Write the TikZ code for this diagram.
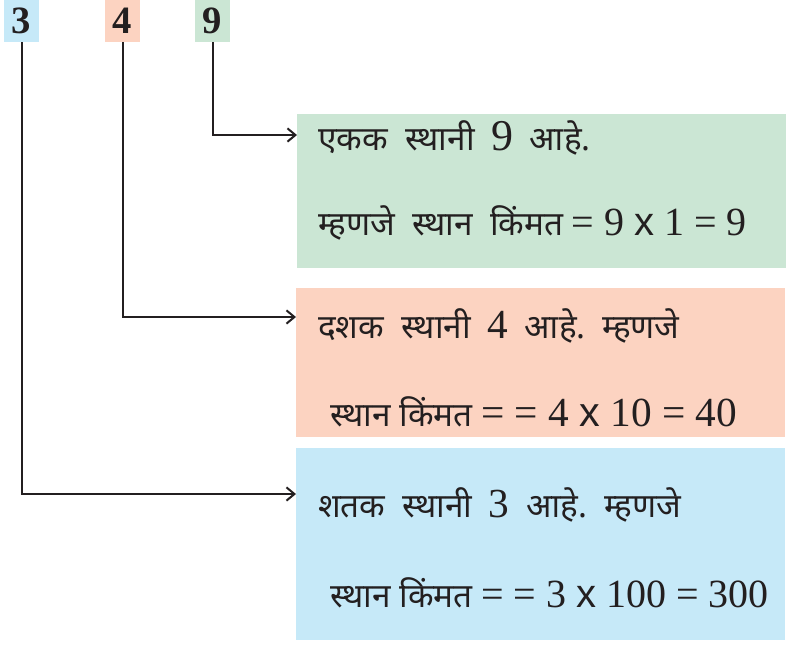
\documentclass[tikz,border=0pt]{standalone}
\usepackage{fontspec}
\setmainfont{Liberation Serif}
\newfontfamily\devafont[Script=Devanagari]{Noto Sans}
\newfontfamily\arialfont{Liberation Sans}
\usetikzlibrary{arrows.meta,positioning}
\definecolor{vert}{RGB}{203,230,212}
\definecolor{rose}{RGB}{252,211,193}
\definecolor{ciel}{RGB}{198,233,248}
\definecolor{encre}{RGB}{35,31,32}
\newcommand{\dv}[1]{{\devafont #1}}
\newcommand{\fois}{{\arialfont x}}
\newcommand{\gros}{\fontsize{31}{32}\selectfont}

\begin{document}
\begin{tikzpicture}[x=0.75pt,y=-0.75pt,
    chiffre/.style={inner sep=0pt,minimum width=26.25pt,minimum height=31.5pt,
      font=\fontsize{29}{30}\selectfont\bfseries,text=encre},
    panneau/.style={anchor=north west,inner sep=0pt,minimum width=366.75pt},
    ligne/.style={anchor=base west,inner sep=0pt,text=encre,font=\fontsize{25}{30}\selectfont},
    fleche/.style={encre,line width=1.5pt,-{Straight Barb[length=6pt,width=10pt]}}]
  \useasboundingbox (0,0) rectangle (786,644);
  %% chiffres du nombre
  \node[chiffre,fill=ciel] (d3) at (21.5,21) {3};
  \node[chiffre,fill=rose] (d4) at (122.5,21) {4};
  \node[chiffre,fill=vert] (d9) at (212.5,21) {9};

  %% cases de couleur
  \node[panneau,fill=vert,minimum height=115.5pt] (ekak) at (297,114) {};
  \node[panneau,fill=rose,minimum height=111.75pt] (dashak) at (296,288) {};
  \node[panneau,fill=ciel,minimum height=144pt] (shatak) at (296,448) {};

  %% unites
  \node[ligne] (ekak1) at (318,150) {\dv{एकक\ \ स्थानी}\ \ {\fontsize{33}{34}\selectfont 9}\ \ \dv{आहे.}};
  \node[ligne] (ekak2) at (318,235) {\dv{म्हणजे\ \ स्थान\ \ किंमत}\ {\fontsize{30}{30}\selectfont = 9 \fois{} 1 = 9}};
  %% dizaines
  \node[ligne] (dashak1) at (318,338) {\dv{दशक\ \ स्थानी}\ \ {\gros 4}\ \ \dv{आहे.\ \ म्हणजे}};
  \node[ligne] (dashak2) at (330,426) {\dv{स्थान\ किंमत} {\gros = = 4 \fois{} 10 = 40}};
  %% centaines
  \node[ligne] (shatak1) at (318,517) {\dv{शतक\ \ स्थानी}\ \ {\gros 3}\ \ \dv{आहे.\ \ म्हणजे}};
  \node[ligne] (shatak2) at (330,607) {\dv{स्थान\ किंमत} {\fontsize{30}{32}\selectfont = = 3 \fois{} 100 = 300}};

  %% fleches
  \draw[fleche] (d9.south) |- ([yshift=-15.75pt]ekak.north west);
  \draw[fleche] (d4.south) |- ([yshift=-21.75pt]dashak.north west);
  \draw[fleche] (d3.south) |- ([yshift=-34.5pt]shatak.north west);
\end{tikzpicture}
\end{document}
